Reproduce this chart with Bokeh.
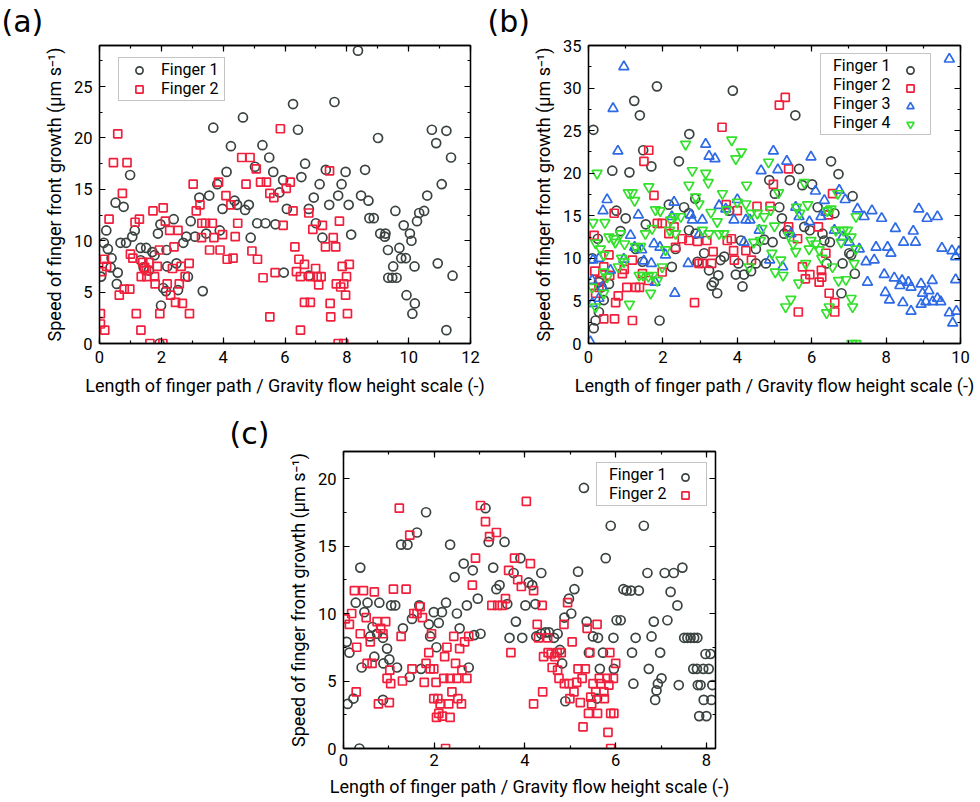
from bokeh.plotting import figure
from bokeh.models import (LinearAxis, SingleIntervalTicker, Range1d, Legend,
                          LegendItem, CustomJSTickFormatter, Spacer)
from bokeh.layouts import row, column
from bokeh.embed import file_html
from bokeh.resources import INLINE

# ---------------- data (x, y) ----------------
a_f1 = [(8.36,28.5),(6.26,23.3),(7.60,23.5),(4.64,22.0),(3.68,21.0),(6.42,20.8),(10.75,20.8),(11.22,20.7),
        (10.89,19.5),(9.01,20.0),(11.37,18.1),(4.25,19.2),(5.27,19.3),(5.49,18.1),(5.03,17.2),(4.11,16.7),
        (5.62,16.7),(6.65,17.5),(7.32,16.9),(7.96,16.7),(8.59,16.9),(6.53,16.2),(5.94,15.9),(7.12,15.5),
        (7.83,15.5),(11.07,15.5),(5.82,14.7),(7.72,14.4),(8.46,14.4),(10.60,14.4),(6.93,14.2),(8.70,13.9),
        (7.43,13.5),(8.06,13.5),(10.50,12.9),(9.57,12.9),(10.34,12.7),(6.06,13.1),(6.77,13.1),(4.71,13.0),
        (4.45,13.5),(4.37,13.9),(4.83,13.5),(3.98,13.1),(3.55,14.4),(3.23,14.2),(3.81,15.5),(0.52,13.7),
        (0.78,13.3),(0.99,16.4),(8.73,12.2),(8.87,12.2),(10.27,11.9),(5.10,11.7),(5.37,11.7),(5.69,11.6),
        (7.00,11.7),(2.40,12.1),(2.95,11.9),(0.22,11.0),(1.14,11.0),(1.97,11.6),(1.06,10.4),(0.68,9.8),
        (0.86,9.8),(0.14,9.8),(0.27,9.2),(0.39,8.3),(0.36,7.4),(0.05,6.5),(0.59,6.9),(0.56,5.8),
        (1.89,10.7),(2.17,9.1),(2.71,9.8),(2.81,10.4),(3.09,10.4),(3.45,10.7),(3.89,11.0),(1.33,9.3),
        (1.51,9.3),(1.78,8.6),(1.71,8.9),(1.33,8.1),(1.43,7.4),(1.60,7.1),(2.19,7.5),(2.49,7.8),
        (2.86,6.5),(2.06,5.4),(2.15,5.1),(2.54,5.2),(3.34,5.1),(1.99,3.7),(1.94,0.0),(4.89,10.3),
        (9.08,10.7),(9.23,10.4),(9.25,10.7),(9.33,9.1),(9.70,9.3),(9.84,11.5),(10.04,10.7),(10.09,10.0),
        (9.50,7.5),(9.76,8.3),(9.91,8.3),(10.19,7.5),(9.34,6.4),(9.47,6.4),(9.61,6.4),(9.93,4.7),
        (10.20,3.9),(10.12,2.9),(10.94,7.8),(11.42,6.6),(11.22,1.3),(5.96,6.9),(6.77,6.6),(8.14,10.6),
        (7.21,10.3)]
a_f2 = [(0.59,20.4),(0.45,17.6),(0.89,17.6),(0.74,14.6),(0.31,12.1),(1.15,11.8),(1.29,12.1),(1.73,12.9),
        (2.06,13.2),(2.13,11.9),(2.27,11.0),(2.54,11.0),(2.41,9.4),(1.94,9.1),(1.00,8.7),(1.08,8.3),
        (0.16,8.2),(0.08,7.0),(0.23,7.5),(1.40,7.9),(1.46,7.4),(1.60,7.9),(1.52,7.1),(1.35,6.5),
        (1.53,6.5),(1.78,6.5),(1.87,7.5),(1.80,5.8),(2.36,7.3),(2.19,5.8),(2.58,5.8),(2.64,7.5),
        (2.90,7.8),(2.77,6.5),(2.30,4.7),(2.46,4.0),(2.68,3.9),(2.91,2.9),(0.64,4.7),(0.80,5.3),
        (0.98,5.3),(0.03,2.9),(0.03,1.9),(0.17,1.3),(1.19,2.9),(1.34,1.3),(1.63,0.0),(2.05,0.0),
        (1.95,2.9),(3.03,15.5),(3.25,13.5),(3.13,12.9),(3.31,11.7),(3.43,11.7),(3.65,11.7),(3.30,10.3),
        (3.70,10.3),(3.56,9.1),(3.90,9.1),(3.85,15.7),(3.98,10.6),(4.09,14.4),(4.25,13.5),(4.47,11.7),
        (4.39,10.4),(4.13,8.2),(4.32,8.3),(4.60,18.1),(4.87,18.1),(4.74,15.5),(5.07,17.0),(5.21,15.7),
        (5.40,15.7),(5.51,14.6),(5.64,14.2),(4.93,9.0),(5.11,8.2),(5.29,6.4),(5.51,2.6),(5.68,6.9),
        (5.85,20.9),(5.94,11.5),(6.04,15.1),(6.17,15.7),(6.26,12.9),(6.32,9.4),(6.37,7.0),(6.45,8.2),
        (6.63,7.7),(6.50,6.5),(6.50,1.3),(6.63,4.0),(6.82,4.0),(6.77,12.7),(6.90,11.1),(6.99,7.3),
        (6.82,6.5),(7.04,6.5),(7.17,6.5),(7.09,5.7),(7.21,11.5),(7.31,9.4),(7.44,16.8),(7.56,10.3),
        (7.64,9.4),(7.76,11.9),(7.46,3.9),(7.48,2.6),(7.66,5.8),(7.80,5.5),(7.90,5.8),(7.96,4.7),
        (7.85,7.5),(7.99,6.5),(8.08,7.7),(8.02,2.9),(7.72,0.0),(7.90,0.0)]

b_f1 = [(0.13,25.1),(0.64,20.3),(1.10,20.1),(1.23,28.5),(1.38,26.8),(1.47,22.7),(1.69,20.8),(1.84,30.2),
        (2.43,21.4),(2.71,24.6),(3.88,29.7),(5.56,26.8),(5.66,20.5),(5.41,19.2),(4.86,19.2),(5.01,17.6),
        (5.75,18.6),(6.01,18.7),(6.52,21.4),(6.72,19.9),(7.10,17.3),(6.61,15.3),(6.80,5.9),(7.16,8.2),
        (7.01,10.6),(0.75,15.6),(1.00,14.7),(0.86,13.2),(0.25,12.3),(0.14,1.8),(0.19,2.7),(0.28,3.7),
        (0.35,6.6),(0.41,5.1),(1.91,2.7),(1.54,14.0),(2.16,16.3),(2.57,16.0),(2.87,17.0),(2.70,15.3),
        (2.24,9.0),(2.93,9.6),(3.11,10.6),(3.24,8.6),(3.31,6.8),(3.37,7.2),(3.49,8.0),(3.46,5.9),
        (3.55,9.8),(3.65,10.2),(3.96,8.1),(4.14,6.7),(4.18,8.1),(4.37,8.5),(4.50,9.4),(4.03,9.4),
        (4.10,12.1),(4.50,11.1),(4.77,9.4),(4.72,12.2),(4.95,11.9),(5.13,16.0),(5.20,14.7),(5.26,12.9),
        (5.35,13.3),(5.80,13.7),(5.95,13.3),(6.16,16.0),(6.29,12.9),(6.34,12.1),(6.40,9.4),(6.83,9.4),
        (7.06,10.4),(6.49,11.9),(3.78,15.6),(2.88,12.9),(2.70,13.3),(2.34,11.1),(1.27,11.1),(1.45,9.6),
        (0.28,7.2),(0.10,10.0),(0.55,7.0)]
b_f2 = [(5.13,28.0),(5.29,28.9),(3.59,25.4),(1.62,22.7),(1.49,21.4),(1.76,17.4),(0.69,15.3),(0.15,12.7),
        (0.17,8.5),(0.55,10.4),(4.97,18.7),(5.38,20.5),(6.56,17.6),(6.45,15.1),(6.18,13.7),(5.62,12.3),
        (5.38,13.7),(4.88,16.1),(4.53,16.1),(4.00,15.6),(3.70,16.3),(3.84,12.3),(3.73,12.1),(3.35,10.8),
        (3.18,12.1),(2.93,12.0),(2.97,9.4),(3.06,9.4),(3.31,9.4),(3.90,10.9),(3.92,9.8),(4.23,10.9),
        (4.38,9.8),(2.85,4.8),(0.41,2.9),(0.70,2.9),(1.18,2.7),(0.73,4.8),(0.80,5.6),(1.03,6.6),
        (1.27,6.6),(1.37,6.6),(0.91,8.2),(0.96,8.7),(0.41,9.0),(0.57,8.0),(0.30,7.4),(0.19,5.9),
        (0.28,6.6),(1.85,14.1),(1.98,14.1),(2.30,13.7),(2.16,12.9),(2.34,11.3),(2.52,12.3),(2.70,12.1),
        (5.75,9.0),(5.83,7.6),(5.95,8.1),(6.20,7.2),(6.27,7.8),(6.26,8.6),(6.47,5.9),(6.62,4.8),
        (6.62,3.7),(5.64,3.7),(1.62,7.4),(1.45,8.2),(1.18,9.8),(1.98,8.4),(6.38,10.6)]
b_f3 = [(0.95,32.5),(0.66,27.6),(0.79,22.6),(9.70,33.4),(3.15,23.4),(3.24,22.0),(3.40,21.7),(4.97,22.6),
        (5.33,21.4),(5.98,21.9),(4.64,20.3),(5.09,20.4),(6.10,17.9),(6.34,16.8),(6.74,18.0),(6.90,16.9),
        (7.23,15.8),(7.41,14.9),(7.62,15.6),(7.88,14.7),(8.25,13.5),(8.47,11.9),(8.73,13.2),(8.79,11.9),
        (8.88,15.8),(9.10,14.7),(9.38,14.9),(9.50,11.2),(9.77,10.9),(9.87,10.2),(9.96,10.8),(9.87,7.5),
        (9.70,3.6),(9.79,2.4),(9.89,3.8),(7.73,11.3),(8.04,11.3),(8.13,10.6),(7.68,9.8),(7.46,9.6),
        (7.50,7.2),(7.95,8.1),(8.22,7.7),(8.43,7.4),(8.37,6.8),(8.60,7.2),(8.67,6.6),(7.98,6.0),
        (8.09,5.1),(8.45,4.8),(8.67,3.8),(8.94,7.0),(8.98,5.9),(9.15,6.2),(9.24,7.4),(8.94,4.6),
        (9.07,4.9),(9.25,4.9),(9.38,5.3),(9.47,4.9),(7.28,11.1),(7.01,11.9),(6.83,12.5),(6.61,13.3),
        (6.38,15.4),(6.25,14.9),(5.94,14.3),(5.66,14.9),(5.57,16.0),(5.44,12.9),(5.22,9.0),(4.87,9.8),
        (4.59,13.3),(4.23,14.5),(4.00,16.9),(3.91,14.5),(4.18,11.9),(4.34,14.5),(3.51,16.2),(3.69,15.8),
        (3.06,14.5),(2.75,15.1),(2.79,14.5),(2.97,12.8),(2.68,9.4),(2.32,5.9),(2.30,16.6),(2.24,14.9),
        (1.92,11.3),(1.76,11.7),(1.69,9.4),(1.79,7.2),(1.34,15.1),(1.13,12.7),(1.24,11.3),(1.43,11.0),
        (1.49,9.7),(0.95,9.9),(0.50,16.9),(0.39,15.6),(0.28,10.0),(0.12,9.8),(0.10,7.4),(0.28,5.3),
        (0.37,6.6),(0.10,4.7),(0.05,0.2),(0.59,8.6),(2.07,10.4)]
b_f4 = [(0.23,20.0),(0.12,14.2),(0.44,14.2),(0.19,11.8),(0.32,11.1),(0.41,10.4),(0.55,12.5),(0.68,12.3),
        (0.86,12.9),(0.97,11.7),(0.72,11.9),(0.89,10.0),(0.95,9.6),(0.80,9.0),(0.41,8.4),(0.50,7.8),
        (0.41,5.9),(0.19,4.3),(0.10,6.6),(1.10,4.6),(1.07,17.7),(1.18,17.7),(1.24,16.8),(1.62,18.4),
        (1.80,15.7),(1.93,15.6),(1.26,11.4),(1.40,11.4),(1.53,12.9),(1.71,13.5),(1.36,8.0),(1.47,8.0),
        (1.61,7.9),(1.73,8.0),(1.85,7.4),(1.67,5.9),(1.98,9.0),(2.07,11.0),(2.18,13.3),(2.21,14.5),
        (2.32,14.9),(2.48,14.9),(2.34,12.9),(2.61,23.4),(2.70,18.6),(2.79,20.3),(2.88,17.2),(2.97,16.4),
        (3.15,20.0),(3.22,18.9),(3.29,15.4),(3.06,13.3),(3.24,12.9),(3.46,14.3),(3.60,17.6),(3.51,12.9),
        (3.64,12.9),(3.71,15.7),(3.85,23.9),(3.96,21.7),(4.11,22.5),(4.00,16.6),(4.23,16.4),(4.25,18.6),
        (4.37,15.3),(4.44,11.9),(4.54,15.3),(4.32,9.0),(4.62,12.1),(4.66,13.5),(4.72,14.9),(4.84,21.3),
        (4.90,15.7),(5.00,13.8),(5.11,17.7),(4.93,10.6),(5.17,9.8),(5.02,8.4),(5.23,8.0),(5.30,4.3),
        (5.44,5.2),(5.38,12.7),(5.50,11.7),(5.57,10.8),(5.59,16.0),(5.68,15.3),(5.80,18.9),(5.89,16.3),
        (5.65,7.1),(5.84,9.4),(5.98,12.1),(5.93,11.1),(6.11,11.7),(6.20,11.0),(6.27,10.0),(6.42,15.6),
        (6.52,15.8),(6.40,3.6),(6.47,4.3),(6.56,9.0),(6.70,17.6),(6.65,13.3),(6.79,11.9),(6.85,13.3),
        (6.96,13.3),(6.72,7.4),(6.92,7.5),(7.06,5.3),(7.10,4.3),(7.14,9.4),(7.19,11.1),(7.06,12.5),
        (7.19,14.9),(7.08,0.0),(7.19,0.0)]

c_f1 = [(0.07,7.9),(0.13,7.1),(0.09,3.3),(0.22,3.7),(0.37,13.4),(0.27,10.8),(0.46,10.1),(0.53,10.8),
        (0.59,8.3),(0.64,9.0),(0.68,6.8),(0.40,6.0),(0.74,8.5),(0.79,10.8),(0.87,8.2),(0.88,6.3),
        (0.96,7.4),(1.01,6.6),(1.05,10.6),(1.14,10.6),(1.18,6.0),(0.87,3.6),(0.35,0.0),(1.27,15.1),
        (1.41,15.1),(1.31,8.9),(1.46,5.3),(1.51,9.6),(1.62,16.0),(1.67,10.6),(1.71,5.9),(1.82,17.5),
        (1.88,9.2),(1.91,8.3),(1.99,10.1),(2.05,7.5),(2.10,9.3),(2.17,10.1),(2.26,10.8),(2.35,15.1),
        (2.45,12.7),(2.50,10.0),(2.56,8.9),(2.65,13.7),(2.72,10.6),(2.76,6.0),(2.85,13.2),(2.88,8.4),
        (2.96,11.1),(3.02,8.5),(3.13,17.8),(3.20,15.3),(3.30,13.4),(3.37,11.8),(3.44,12.1),(3.55,15.3),
        (3.61,10.7),(3.66,8.2),(3.75,13.0),(3.80,9.4),(3.90,14.1),(3.94,8.2),(4.01,10.6),(4.08,12.3),
        (4.16,12.1),(4.23,10.7),(4.25,8.3),(4.36,13.0),(4.36,8.5),(4.45,8.6),(4.53,8.6),(4.64,8.2),
        (4.72,8.5),(4.77,7.3),(4.82,6.3),(4.87,9.7),(4.89,3.5),(4.97,11.1),(5.02,10.0),(5.09,11.8),
        (5.17,13.1),(5.30,19.3),(5.36,9.4),(5.41,7.1),(5.50,8.3),(5.61,8.2),(5.65,5.9),(5.72,7.1),
        (5.59,3.7),(5.78,14.1),(5.89,16.5),(5.95,8.2),(5.96,5.9),(6.02,9.5),(6.11,9.5),(6.17,11.8),
        (6.24,11.7),(6.34,11.7),(6.39,4.8),(6.36,7.1),(6.44,8.2),(6.51,11.7),(6.62,16.5),(6.70,13.0),
        (6.73,5.9),(6.79,8.3),(6.84,9.4),(6.87,3.6),(6.90,4.3),(6.93,4.8),(6.98,7.1),(7.01,5.2),
        (7.08,13.0),(7.14,9.5),(7.21,11.6),(7.28,13.0),(7.36,10.6),(7.39,4.7),(7.47,13.4),(7.51,8.2),
        (7.58,8.2),(7.65,8.2),(7.73,8.2),(7.80,8.2),(7.71,5.9),(7.79,5.9),(7.81,4.7),(7.87,4.7),
        (7.84,2.4),(7.93,5.9),(7.94,3.6),(7.98,7.0),(8.00,2.4),(8.05,5.9),(8.09,7.0),(8.11,3.6),
        (8.13,4.7)]
c_f2 = [(0.04,9.6),(0.13,9.2),(0.18,10.0),(0.24,11.7),(0.44,11.7),(0.29,7.5),(0.28,4.2),(0.37,8.5),
        (0.50,9.7),(0.52,6.3),(0.59,7.9),(0.63,6.3),(0.68,11.6),(0.74,9.4),(0.77,3.3),(0.82,8.9),
        (0.87,8.5),(0.93,9.4),(0.96,5.2),(1.01,3.4),(1.02,5.8),(1.04,4.8),(1.10,11.8),(1.23,17.8),
        (1.27,8.3),(1.30,5.0),(1.38,11.8),(1.46,15.8),(1.51,5.9),(1.55,10.0),(1.62,10.0),(1.69,10.5),
        (1.74,9.7),(1.78,4.9),(1.82,6.3),(1.88,7.1),(1.91,5.9),(1.94,8.5),(1.99,5.9),(1.99,3.7),
        (2.04,4.9),(2.05,2.3),(2.08,3.7),(2.10,2.6),(2.13,3.3),(2.18,2.4),(2.21,5.2),(2.23,6.8),
        (2.25,0.0),(2.28,7.5),(2.32,3.3),(2.35,5.2),(2.35,2.3),(2.39,4.2),(2.43,8.3),(2.47,6.3),
        (2.50,5.2),(2.52,3.7),(2.56,7.4),(2.60,3.3),(2.61,5.8),(2.67,7.9),(2.72,5.2),(2.76,8.3),
        (2.84,12.1),(2.91,14.1),(3.02,18.0),(3.13,16.8),(3.22,15.7),(3.27,10.6),(3.37,16.0),(3.40,10.6),
        (3.50,10.6),(3.57,11.1),(3.64,13.2),(3.69,7.1),(3.77,14.1),(3.84,12.5),(3.92,12.0),(4.03,18.3),
        (4.12,13.7),(4.19,11.7),(4.19,3.3),(4.27,9.2),(4.30,8.2),(4.38,10.6),(4.39,4.2),(4.41,6.8),
        (4.50,8.2),(4.51,7.1),(4.58,7.0),(4.60,6.0),(4.66,6.8),(4.71,7.1),(4.72,5.8),(4.75,5.2),
        (4.80,7.1),(4.86,9.2),(4.87,4.8),(4.94,10.8),(4.97,4.8),(4.99,3.7),(5.04,7.9),(5.08,4.2),
        (5.14,4.9),(5.17,5.9),(5.22,3.4),(5.26,5.2),(5.28,1.6),(5.33,5.9),(5.37,8.9),(5.40,2.6),
        (5.43,7.1),(5.45,3.8),(5.47,3.3),(5.50,4.8),(5.56,4.2),(5.59,9.2),(5.60,2.6),(5.64,5.2),
        (5.67,4.8),(5.74,4.2),(5.75,3.7),(5.81,5.2),(5.83,1.2),(5.87,7.1),(5.89,2.6),(5.89,0.0),
        (5.95,5.2),(5.96,2.6),(6.00,6.3),(5.85,4.7)]

series_labels = ["Finger 1", "Finger 2", "Finger 3", "Finger 4"]
panel_names = ["(a)", "(b)", "(c)"]
x_title = "Length of finger path / Gravity flow height scale (-)"
y_title = "Speed of finger front growth (\u03bcm s\u207b\u00b9)"

# ---------------- styling ----------------
FONT = "Roboto"
LETTER_FONT = "DejaVu Sans"
C_CIRC = "#3a4340"
C_SQ = "#f0203c"
C_TRI = "#2e6ae6"
C_ITRI = "#33e02b"
TOP_SHIFT = 7   # top row is pulled up by this many pixels


def style_axis(ax, show_labels=True):
    ax.axis_line_color = "black"
    ax.axis_line_width = 1.3
    ax.major_tick_in = 6
    ax.major_tick_out = 0
    ax.minor_tick_in = 3
    ax.minor_tick_out = 0
    ax.major_tick_line_color = "black"
    ax.minor_tick_line_color = "black"
    ax.major_tick_line_width = 1.2
    ax.minor_tick_line_width = 1.2
    ax.major_label_text_font = FONT
    ax.major_label_text_font_size = "16.5px"
    ax.major_label_text_color = "black"
    ax.major_label_standoff = 7
    ax.axis_label_text_font = FONT
    ax.axis_label_text_font_size = "18px"
    ax.axis_label_text_font_style = "normal"
    ax.axis_label_text_color = "black"
    if not show_labels:
        ax.formatter = CustomJSTickFormatter(code="return ''")
        ax.major_label_text_font_size = "0px"
        ax.major_label_standoff = 0


def make_fig(width, height, bl, br, bt, bb, xmax, ymax, xint, yint, xtick_so, xstand, ystand,
             name, name_offset, name_standoff):
    p = figure(width=width, height=height, x_range=Range1d(0, xmax), y_range=Range1d(0, ymax),
               output_backend="svg", toolbar_location=None,
               min_border_left=bl, min_border_right=br, min_border_top=bt, min_border_bottom=bb)
    p.grid.visible = False
    p.outline_line_color = "black"
    p.outline_line_width = 1.3
    p.background_fill_color = "white"
    p.border_fill_color = "white"
    # panel letter as the figure title, pushed left of the frame
    p.title.text = name
    p.title.text_font = LETTER_FONT
    p.title.text_font_size = "30px"
    p.title.text_font_style = "normal"
    p.title.text_color = "black"
    p.title.align = "left"
    p.title.offset = name_offset
    p.title.standoff = name_standoff
    p.xaxis.ticker = SingleIntervalTicker(interval=xint, num_minor_ticks=2)
    p.yaxis.ticker = SingleIntervalTicker(interval=yint, num_minor_ticks=2)
    for ax in p.xaxis + p.yaxis:
        style_axis(ax)
    p.xaxis.major_label_standoff = xtick_so
    p.xaxis.axis_label = x_title
    p.yaxis.axis_label = y_title
    p.xaxis.axis_label_standoff = xstand
    p.yaxis.axis_label_standoff = ystand
    top = LinearAxis(ticker=SingleIntervalTicker(interval=xint, num_minor_ticks=2))
    style_axis(top, False)
    p.add_layout(top, "above")
    right = LinearAxis(ticker=SingleIntervalTicker(interval=yint, num_minor_ticks=2))
    style_axis(right, False)
    p.add_layout(right, "right")
    return p


def scat(p, pts, marker, color, size):
    xs = [q[0] for q in pts]
    ys = [q[1] for q in pts]
    return p.scatter(xs, ys, marker=marker, size=size, fill_color=None,
                     line_color=color, line_width=1.7)


def legend_glyph_first(p, items, loc):
    leg = Legend(items=[LegendItem(label=l, renderers=[r]) for l, r in items],
                 location=loc, padding=2, spacing=0, glyph_height=18, label_height=18,
                 glyph_width=36, label_standoff=4, label_width=61,
                 label_text_font=FONT, label_text_font_size="16px", label_text_color="black",
                 border_line_color="#8a8a8a", border_line_width=1.2,
                 background_fill_color="white", background_fill_alpha=1.0)
    p.add_layout(leg)


def legend_label_first(p, items, loc, glyph_dx):
    # box with the texts (glyph slots filled by invisible stand-ins)
    ghosts = [p.scatter([], [], marker="circle", size=1, fill_alpha=0, line_alpha=0) for _ in items]
    box = Legend(items=[LegendItem(label=l, renderers=[g]) for (l, _), g in zip(items, ghosts)],
                 location=loc, padding=2, spacing=0, glyph_height=18, label_height=18,
                 glyph_width=6, label_standoff=4, label_width=95,
                 label_text_font=FONT, label_text_font_size="16px", label_text_color="black",
                 border_line_color="#8a8a8a", border_line_width=1.2,
                 background_fill_color="white", background_fill_alpha=1.0)
    p.add_layout(box)
    # the markers, drawn on the right-hand side of the same box
    marks = Legend(items=[LegendItem(label=" ", renderers=[r]) for _, r in items],
                   location=(loc[0] + glyph_dx, loc[1]), padding=2, spacing=0,
                   glyph_height=18, label_height=18, glyph_width=18, label_standoff=0,
                   label_width=0, label_text_font=FONT, label_text_font_size="16px",
                   border_line_alpha=0, background_fill_alpha=0)
    p.add_layout(marks)


# ---- (a)
pa = make_fig(489, 400 + TOP_SHIFT, 99, 19, 45 + TOP_SHIFT, 57, 12, 29, 2, 5, 7, 9, 6,
              panel_names[0], -98, 14)
ra1 = scat(pa, a_f1, "circle", C_CIRC, 9)
ra2 = scat(pa, a_f2, "square", C_SQ, 8)
legend_glyph_first(pa, [(series_labels[0], ra1), (series_labels[1], ra2)], (19, 242))

# ---- (b)
pb = make_fig(489, 400 + TOP_SHIFT, 99, 18, 45 + TOP_SHIFT, 57, 10, 35, 2, 5, 7, 9, 6,
              panel_names[1], -101, 14)
rb1 = scat(pb, b_f1, "circle", C_CIRC, 9)
rb2 = scat(pb, b_f2, "square", C_SQ, 8)
rb3 = scat(pb, b_f3, "triangle", C_TRI, 10)
rb4 = scat(pb, b_f4, "inverted_triangle", C_ITRI, 10)
legend_label_first(pb, [(series_labels[0], rb1), (series_labels[1], rb2),
                        (series_labels[2], rb3), (series_labels[3], rb4)], (232, 208), 79)

# ---- (c)
pc = make_fig(520, 400, 123, 25, 51, 52, 8.2, 22, 2, 5, 5, 7, 6, panel_names[2], -114, 1)
rc1 = scat(pc, c_f1, "circle", C_CIRC, 9)
rc2 = scat(pc, c_f2, "square", C_SQ, 8)
legend_label_first(pc, [(series_labels[0], rc1), (series_labels[1], rc2)], (253, 242), 78)

layout = column(row(pa, pb, margin=(-TOP_SHIFT, 0, 0, 0)),
                row(Spacer(width=220, height=400), pc))

open("out.html", "w").write(file_html(layout, INLINE))
